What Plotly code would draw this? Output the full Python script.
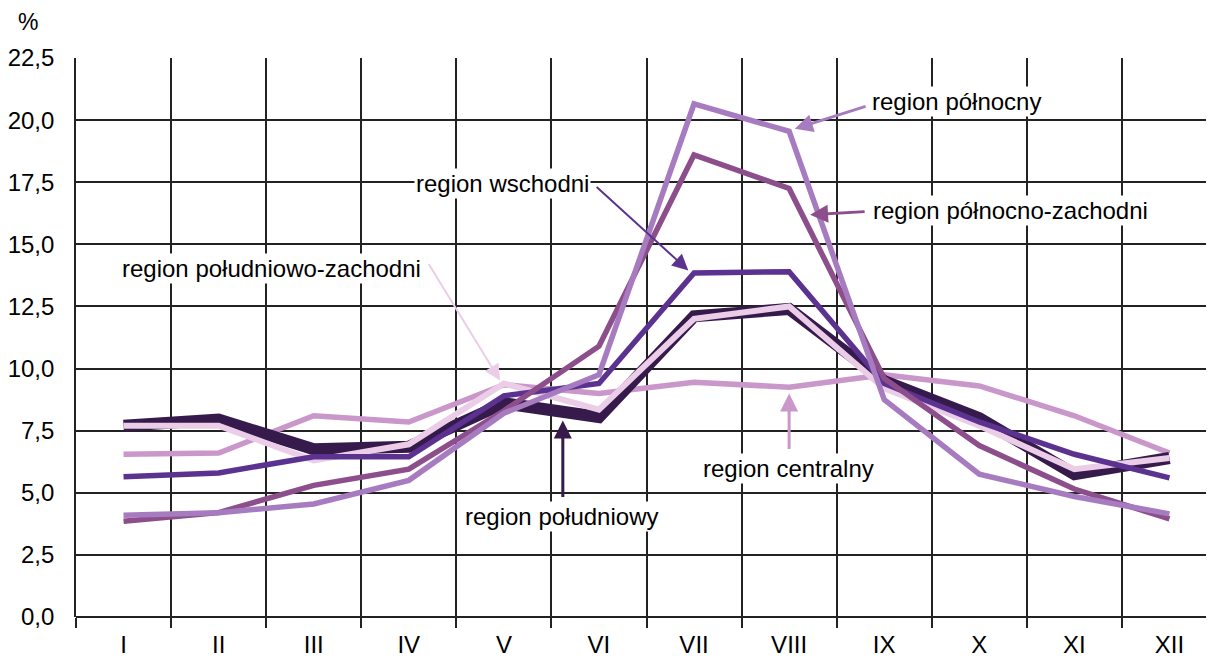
import plotly.graph_objects as go

months = ["I", "II", "III", "IV", "V", "VI", "VII", "VIII", "IX", "X", "XI", "XII"]

centralny = [6.55, 6.6, 8.1, 7.85, 9.35, 9.0, 9.45, 9.25, 9.75, 9.3, 8.1, 6.6]
poludniowy = [7.7, 7.95, 6.75, 6.85, 8.6, 8.05, 12.1, 12.4, 9.5, 8.0, 5.75, 6.4]
poludniowo_zachodni = [7.7, 7.7, 6.3, 6.95, 9.4, 8.35, 12.0, 12.5, 9.2, 7.7, 5.95, 6.4]
wschodni = [5.65, 5.8, 6.45, 6.45, 8.9, 9.4, 13.85, 13.9, 9.4, 7.85, 6.55, 5.6]
polnocno_zachodni = [3.85, 4.2, 5.3, 5.95, 8.3, 10.9, 18.6, 17.25, 9.6, 6.9, 5.15, 3.95]
polnocny = [4.1, 4.2, 4.55, 5.5, 8.2, 9.75, 20.65, 19.55, 8.75, 5.75, 4.85, 4.15]

y_ticks = [0, 2.5, 5, 7.5, 10, 12.5, 15, 17.5, 20, 22.5]

C_CEN = "#c997c9"
C_PLD = "#361a4c"
C_PZ = "#ebcde8"
C_WSCH = "#5c3291"
C_PNZ = "#8d4f8c"
C_PN = "#a77bc0"

FONT = "Liberation Sans, Arial, sans-serif"
FS = 24

fig = go.Figure()
series = [
    ("region centralny", centralny, C_CEN, 5.5),
    ("region południowy", poludniowy, C_PLD, 12),
    ("region południowo-zachodni", poludniowo_zachodni, C_PZ, 6),
    ("region wschodni", wschodni, C_WSCH, 5.5),
    ("region północno-zachodni", polnocno_zachodni, C_PNZ, 5.5),
    ("region północny", polnocny, C_PN, 5.5),
]
for name, vals, col, w in series:
    fig.add_trace(go.Scatter(x=months, y=vals, mode="lines", name=name,
                             line=dict(color=col, width=w), showlegend=False))

# text labels: (text, x, y)
labels = [
    ("region północny", 8.76, 20.75),
    ("region północno-zachodni", 9.33, 16.36),
    ("region wschodni", 3.99, 17.44),
    ("region południowo-zachodni", 1.56, 14.03),
    ("region centralny", 6.99, 5.98),
    ("region południowy", 4.61, 4.05),
]
for t, x, y in labels:
    fig.add_annotation(x=x, y=y, xref="x", yref="y", text=t, showarrow=False,
                       bgcolor="white", borderpad=1,
                       font=dict(family=FONT, size=FS, color="black"))

# arrows: (head x, head y, tail x, tail y, color, width)
arrows = [
    (7.06, 19.65, 7.82, 20.57, C_PN, 3),
    (7.22, 16.19, 7.81, 16.32, C_PNZ, 3),
    (5.94, 13.95, 4.96, 17.36, C_WSCH, 2),
    (3.96, 9.52, 3.2, 14.27, C_PZ, 2),
    (7.0, 9.0, 7.0, 6.7, C_CEN, 3),
    (4.62, 7.91, 4.62, 4.77, C_PLD, 3),
]
for hx, hy, tx, ty, col, w in arrows:
    fig.add_annotation(x=hx, y=hy, ax=tx, ay=ty, xref="x", yref="y",
                       axref="x", ayref="y", text="", showarrow=True,
                       arrowhead=2, arrowsize=1.6 if w == 2 else 1.2,
                       arrowwidth=w, arrowcolor=col)

fig.add_annotation(x=-0.042, y=1.064, xref="paper", yref="paper", text="%",
                   xanchor="center", yanchor="middle", showarrow=False,
                   font=dict(family=FONT, size=23, color="black"))

fig.update_layout(
    width=1214, height=657,
    margin=dict(l=68, r=5, t=50, b=48, autoexpand=False),
    paper_bgcolor="white", plot_bgcolor="white",
    separators=", ",
    font=dict(family=FONT, size=FS, color="black"),
    xaxis=dict(type="category", tickson="boundaries", showgrid=True,
               gridcolor="#222", gridwidth=1.6, ticks="outside", ticklen=10,
               tickcolor="#222", tickwidth=1.6, showline=False, automargin=False,
               range=[-0.5, 11.5], tickfont=dict(size=FS), ticklabelstandoff=11),
    yaxis=dict(range=[0, 22.5], tickvals=y_ticks, tickformat=".1f",
               showgrid=True, gridcolor="#222", gridwidth=1.6, automargin=False,
               zeroline=True, zerolinecolor="#222", zerolinewidth=1.6,
               showline=True, linecolor="#222", linewidth=1.6,
               ticks="", ticklabelstandoff=15, tickfont=dict(size=FS)),
)

fig.write_html("out.html")
